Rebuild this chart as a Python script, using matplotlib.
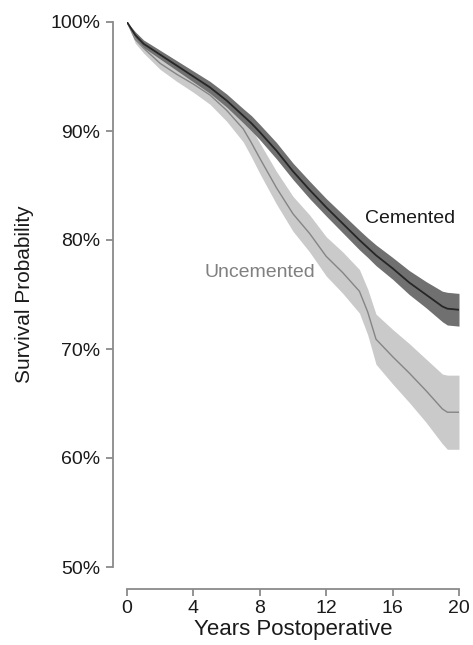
import matplotlib.pyplot as plt

plt.rcParams['font.family'] = ['Liberation Sans', 'DejaVu Sans']

# Kaplan-Meier style survival curves (in %)
years = [0, 0.5, 1, 2, 3, 4, 5, 6, 7, 7.5, 8, 9, 10, 11, 12, 13, 14, 14.5, 15, 16, 17, 18, 19, 19.3, 20]

cemented = [100, 98.8, 98.0, 97.0, 96.0, 95.0, 94.0, 92.8, 91.4, 90.7, 89.9, 88.2, 86.3, 84.6,
            83.0, 81.5, 80.0, 79.3, 78.6, 77.4, 76.1, 75.0, 73.9, 73.7, 73.6]
cem_lo = [100, 98.5, 97.65, 96.6, 95.55, 94.5, 93.45, 92.2, 90.75, 90.0, 89.2, 87.45, 85.55, 83.8,
          82.2, 80.65, 79.1, 78.4, 77.65, 76.4, 75.0, 73.8, 72.5, 72.2, 72.1]
cem_hi = [100, 99.1, 98.35, 97.4, 96.45, 95.5, 94.55, 93.4, 92.05, 91.4, 90.6, 88.95, 87.05, 85.4,
          83.8, 82.35, 80.9, 80.2, 79.55, 78.4, 77.2, 76.2, 75.3, 75.2, 75.1]

uncemented = [100, 98.4, 97.6, 96.2, 95.2, 94.3, 93.3, 91.9, 90.2, 88.9, 87.5, 84.8, 82.4, 80.6,
              78.5, 77.0, 75.3, 73.4, 70.9, 69.3, 67.8, 66.2, 64.5, 64.2, 64.2]
unc_lo = [100, 98.05, 97.15, 95.65, 94.55, 93.55, 92.45, 90.9, 89.0, 87.6, 86.1, 83.3, 80.8, 78.9,
          76.7, 75.1, 73.3, 71.3, 68.6, 66.8, 65.1, 63.3, 61.3, 60.8, 60.8]
unc_hi = [100, 98.75, 98.05, 96.75, 95.85, 95.05, 94.15, 92.9, 91.4, 90.2, 88.9, 86.3, 84.0, 82.3,
          80.3, 78.9, 77.3, 75.5, 73.2, 71.8, 70.5, 69.1, 67.7, 67.6, 67.6]

xticks = [0, 4, 8, 12, 16, 20]
yticks = [50, 60, 70, 80, 90, 100]
ytick_labels = ['50%', '60%', '70%', '80%', '90%', '100%']

fig = plt.figure(figsize=(4.73, 6.45), dpi=100)
ax = fig.add_axes([127 / 473, 1 - 567 / 645, 332 / 473, 545 / 645])

# confidence bands
ax.fill_between(years, unc_lo, unc_hi, color='#cacaca', linewidth=0)
ax.fill_between(years, cem_lo, cem_hi, color='#707070', linewidth=0)

ax.plot(years, uncemented, color='#858585', linewidth=1.0)
ax.plot(years, cemented, color='#262626', linewidth=1.3)

ax.text(17.05, 82.0, 'Cemented', fontsize=14, color='#1a1a1a', ha='center', va='center')
ax.text(8.0, 77.0, 'Uncemented', fontsize=14, color='#808080', ha='center', va='center')

ax.set_xlim(0, 20)
ax.set_ylim(50, 100)
ax.set_xticks(xticks)
ax.set_yticks(yticks)
ax.set_yticklabels(ytick_labels)

# R base-graphics look: detached axes
for side in ['top', 'right']:
    ax.spines[side].set_visible(False)
ax.spines['left'].set_position(('outward', 10))
ax.spines['bottom'].set_position(('outward', 16))
ax.spines['left'].set_bounds(50, 100)
ax.spines['bottom'].set_bounds(0, 20)
for side in ['left', 'bottom']:
    ax.spines[side].set_color('#8a8a8a')
    ax.spines[side].set_linewidth(1.3)
ax.tick_params(axis='both', colors='#8a8a8a', labelcolor='#1a1a1a', labelsize=14,
               length=5, width=1.3, direction='out')
ax.tick_params(axis='y', pad=4)
ax.tick_params(axis='x', pad=3)

ax.set_xlabel('Years Postoperative', fontsize=16, color='#1a1a1a', labelpad=1)
ax.set_ylabel('Survival Probability', fontsize=15, color='#1a1a1a', labelpad=12)

fig.savefig('out.png', dpi=100)
